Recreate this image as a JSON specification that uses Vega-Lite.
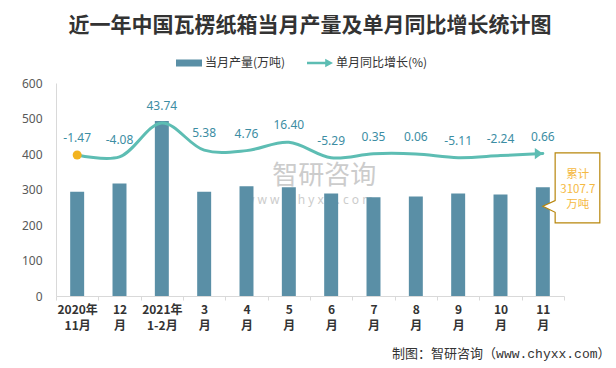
{
  "$schema": "https://vega.github.io/schema/vega-lite/v6.json",
  "width": 508,
  "height": 213,
  "autosize": {"type": "none"},
  "padding": {"left": 56, "top": 83, "right": 52, "bottom": 72},
  "background": "white",
  "config": {
    "view": {"stroke": null},
    "font": "Noto Sans CJK SC",
    "locale": {"number": {"decimal": ".", "thousands": ",", "grouping": [3], "currency": ["", ""], "minus": "-"}}
  },
  "title": {
    "text": "近一年中国瓦楞纸箱当月产量及单月同比增长统计图",
    "fontSize": 21,
    "fontWeight": "bold",
    "color": "#333333",
    "font": "Noto Sans CJK SC",
    "anchor": "middle",
    "frame": "group",
    "baseline": "middle",
    "offset": 24,
    "dy": 21
  },
  "datasets": {
    "main": [
      {"month": "2020年\n11月", "prod": 294, "rate": -1.47},
      {"month": "12\n月", "prod": 317, "rate": -4.08},
      {"month": "2021年\n1-2月", "prod": 493, "rate": 43.74},
      {"month": "3\n月", "prod": 294, "rate": 5.38},
      {"month": "4\n月", "prod": 309, "rate": 4.76},
      {"month": "5\n月", "prod": 306, "rate": 16.40},
      {"month": "6\n月", "prod": 289, "rate": -5.29},
      {"month": "7\n月", "prod": 278, "rate": 0.35},
      {"month": "8\n月", "prod": 280, "rate": 0.06},
      {"month": "9\n月", "prod": 289, "rate": -5.11},
      {"month": "10\n月", "prod": 286, "rate": -2.24},
      {"month": "11\n月", "prod": 306, "rate": 0.66}
    ]
  },
  "encoding": {
    "x": {
      "field": "month",
      "type": "nominal",
      "sort": null,
      "scale": {
        "domain": ["2020年\n11月", "12\n月", "2021年\n1-2月", "3\n月", "4\n月", "5\n月", "6\n月", "7\n月", "8\n月", "9\n月", "10\n月", "11\n月"],
        "paddingInner": 0,
        "paddingOuter": 0
      },
      "axis": {
        "title": "制图：智研咨询（www.chyxx.com）",
        "titleFont": "Liberation Mono, Noto Sans CJK SC",
        "titleFontSize": 13,
        "titleFontWeight": "normal",
        "titleColor": "#333333",
        "titleAnchor": "end",
        "titleAlign": "right",
        "titleBaseline": "middle",
        "titleX": 554,
        "titleY": 57,
        "labelExpr": "split(datum.label, '\\n')",
        "labelFontSize": 12,
        "labelFontWeight": "bold",
        "labelColor": "#333333",
        "labelLineHeight": 16,
        "labelPadding": 4,
        "labelAngle": 0,
        "tickBand": "extent",
        "tickSize": 4,
        "tickColor": "#d9d9d9",
        "domainColor": "#d9d9d9"
      }
    }
  },
  "layer": [
    {
      "layer": [
        {
          "data": {"values": [{"month": "6\n月", "mark": "智研咨询"}]},
          "mark": {"type": "text", "fontSize": 26, "color": "#cccccc", "dx": -7, "baseline": "middle", "font": "Noto Sans CJK SC"},
          "encoding": {"y": {"datum": 337, "type": "quantitative", "scale": {"domain": [0, 600], "nice": false}, "axis": null}, "text": {"field": "mark"}}
        },
        {
          "data": {"values": [{"month": "6\n月", "mark": "w w w . c h y x x . c o m"}]},
          "mark": {"type": "text", "fontSize": 12, "color": "#cccccc", "dx": -22, "baseline": "middle", "font": "Noto Sans"},
          "encoding": {"y": {"datum": 271, "type": "quantitative", "scale": {"domain": [0, 600], "nice": false}, "axis": null}, "text": {"field": "mark"}}
        }
      ]
    },
    {
      "encoding": {
        "y": {
          "field": "prod",
          "type": "quantitative",
          "scale": {"domain": [0, 600], "nice": false},
          "axis": {
            "values": [0, 100, 200, 300, 400, 500, 600],
            "tickCount": 7,
            "labelOverlap": false,
            "title": null,
            "grid": false,
            "ticks": false,
            "labelPadding": 14,
            "labelFontSize": 12,
            "labelColor": "#595959",
            "labelFont": "Noto Sans",
            "domainColor": "#d9d9d9"
          }
        }
      },
      "layer": [
        {
          "data": {"name": "main"},
          "mark": {"type": "bar", "width": {"band": 0.33}},
          "encoding": {
            "color": {
              "datum": "当月产量(万吨)",
              "type": "nominal",
              "scale": {"domain": ["当月产量(万吨)", "单月同比增长(%)"], "range": ["#5A8FA6", "#5DBDB3"]},
              "legend": {
                "orient": "none",
                "legendX": 120,
                "legendY": -33,
                "direction": "horizontal",
                "title": null,
                "padding": 0,
                "labelFontSize": 12,
                "labelColor": "#333333",
                "labelFont": "Noto Sans CJK SC",
                "symbolSize": 676,
                "columnPadding": 21,
                "labelOffset": 3,
                "symbolStrokeWidth": 0,
                "encode": {
                  "symbols": {
                    "update": {
                      "shape": {"signal": "datum.value === '当月产量(万吨)' ? 'M -1 -0.27 L 1 -0.27 L 1 0.27 L -1 0.27 Z' : 'M -1 -0.09 L 0.4 -0.09 L 0.4 -0.32 L 1 0 L 0.4 0.32 L 0.4 0.09 L -1 0.09 Z'"},
                      "fill": {"signal": "scale('color', datum.value)"},
                      "strokeWidth": {"value": 0},
                      "opacity": {"value": 1}
                    }
                  }
                }
              }
            }
          }
        },
        {
          "data": {"values": [{"month": "11\n月", "prod": 306, "total": "累计\n3107.7\n万吨"}]},
          "mark": {
            "type": "point",
            "filled": true,
            "fill": "white",
            "stroke": "#B8860B",
            "strokeWidth": 1.2,
            "opacity": 1,
            "size": 5184,
            "shape": "M 0.342 -0.958 L 1.583 -0.958 L 1.583 0.986 L 0.342 0.986 L 0.342 0.692 L 0 0.525 L 0.342 0.367 Z"
          }
        },
        {
          "data": {"values": [{"month": "11\n月", "prod": 306, "total": "累计\n3107.7\n万吨"}]},
          "mark": {"type": "text", "lineBreak": "\n", "lineHeight": 15, "fontSize": 11.5, "color": "#F5B942", "dx": 35, "dy": -12, "baseline": "middle", "align": "center", "font": "Noto Sans CJK SC"},
          "encoding": {"text": {"field": "total"}}
        }
      ]
    },
    {
      "data": {"name": "main"},
      "encoding": {
        "y": {
          "field": "rate",
          "type": "quantitative",
          "scale": {"domain": [-200, 100], "nice": false, "zero": false},
          "axis": null
        }
      },
      "layer": [
        {
          "mark": {"type": "line", "interpolate": "catmull-rom", "strokeWidth": 3, "strokeCap": "round"},
          "encoding": {"color": {"datum": "单月同比增长(%)", "type": "nominal"}}
        },
        {
          "transform": [{"filter": "indexof(datum.month, '2020') >= 0"}],
          "mark": {"type": "point", "filled": true, "color": "#F2B31F", "size": 81, "opacity": 1}
        },
        {
          "transform": [{"filter": "datum.month === '11\\n月'"}],
          "mark": {"type": "point", "filled": true, "color": "#5DBDB3", "size": 256, "opacity": 1, "shape": "M -1 -0.7 L 0 0 L -1 0.7 Z"}
        },
        {
          "mark": {"type": "text", "dy": -17, "fontSize": 12, "color": "#3C8DA3", "font": "Noto Sans"},
          "encoding": {"text": {"field": "rate", "type": "quantitative", "format": ".2f"}}
        }
      ]
    }
  ],
  "resolve": {"scale": {"y": "independent"}}
}
